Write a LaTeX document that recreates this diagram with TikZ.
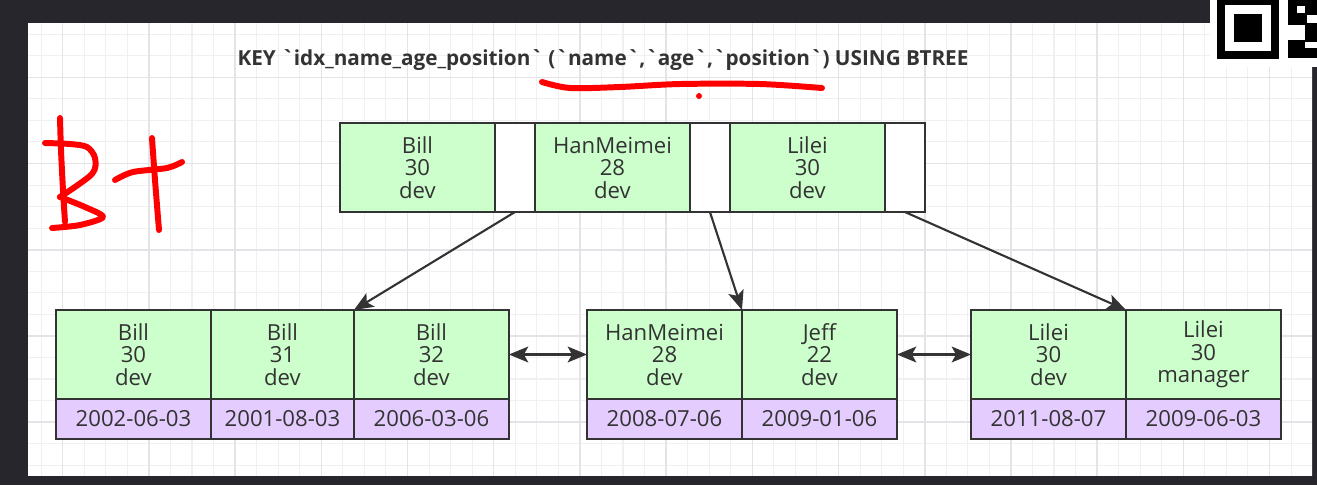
\documentclass[tikz,border=0pt]{standalone}
\usepackage{fontspec}
\setmainfont{Open Sans}[Ligatures=TeXOff]
\definecolor{keygreen}{HTML}{CCFFCC}
\definecolor{rowpurple}{HTML}{E5CCFF}
\definecolor{edgegray}{HTML}{333333}
\definecolor{slate}{HTML}{26262C}
\definecolor{gridminor}{HTML}{F0F0F2}
\definecolor{gridmajor}{HTML}{E4E4E8}
\definecolor{inkred}{HTML}{FF0000}
\usetikzlibrary{arrows.meta,positioning}

\tikzset{
  cell/.style={draw=edgegray, line width=1.2pt, outer sep=0pt, inner sep=0pt,
    align=center, text=edgegray, font=\fontsize{12.6}{12.8}\selectfont},
  keycell/.style={cell, fill=keygreen, minimum width=#1, minimum height=1.78cm},
  keycell/.default=3.1cm,
  gapcell/.style={cell, fill=white, minimum width=0.8cm, minimum height=1.78cm},
  rowcell/.style={cell, fill=rowpurple, minimum width=#1, minimum height=0.8cm},
  rowcell/.default=3.1cm,
  ptr/.style={draw=edgegray, line width=1.2pt, -{Stealth[length=11pt,width=9pt,inset=2.5pt]}},
  link/.style={ptr, {Stealth[length=11pt,width=9pt,inset=2.5pt]}-{Stealth[length=11pt,width=9pt,inset=2.5pt]}},
  pen/.style={inkred, line width=3.4pt, line cap=round, line join=round},
}

\begin{document}
\begin{tikzpicture}[x=0.02cm, y=-0.02cm]
  % screen and paper
  \fill[slate] (0,0) rectangle (1317,485);
  \fill[white] (28,23) rectangle (1312,476);
  \begin{scope}
    \clip (28,23) rectangle (1312,476);
    \foreach \i in {0,...,60}
      \draw[gridminor, line width=0.6pt] ({19.6+21.55*\i},23) -- ++(0,453);
    \foreach \i in {0,...,22}
      \draw[gridminor, line width=0.6pt] (28,{12.65+21.55*\i}) -- ++(1284,0);
    \foreach \i in {0,...,14}
      \draw[gridmajor, line width=0.9pt] ({62.7+86.2*\i},23) -- ++(0,453);
    \foreach \i in {0,...,5}
      \draw[gridmajor, line width=0.9pt] (28,{-8.9+86.2*\i}) -- ++(1284,0);
  \end{scope}

  % qr corner
  \fill[white] (1210,0) rectangle (1317,67);
  \fill[black] (1217,0) rectangle (1279,59);
  \fill[white] (1225,5) rectangle (1271,51);
  \fill[black] (1234,14) rectangle (1262,42);
  \fill[black] (1288,0) rectangle (1317,58);
  \fill[white] (1297,6) rectangle (1305,13);
  \fill[white] (1307,15) rectangle (1317,23);
  \fill[white] (1288,25) rectangle (1305,40);
  \fill[white] (1305,42) rectangle (1317,48);

  % title
  \node[text=edgegray, font=\bfseries\fontsize{11.8}{13}\selectfont] (title) at (603,60)
    {KEY `idx\_name\_age\_position` (`name`,`age`,`position`) USING BTREE};

  % root
  \node[keycell, anchor=north west] (k1) at (340,123) {Bill\\30\\dev};
  \node[gapcell, right=0pt of k1] (g1) {};
  \node[keycell, right=0pt of g1] (k2) {HanMeimei\\28\\dev};
  \node[gapcell, right=0pt of k2] (g2) {};
  \node[keycell, right=0pt of g2] (k3) {Lilei\\30\\dev};
  \node[gapcell, right=0pt of k3] (g3) {};

  % leaf 1
  \node[keycell, anchor=north west] (l1a) at (56,310) {Bill\\30\\dev};
  \node[keycell=2.86cm, right=0pt of l1a] (l1b) {Bill\\31\\dev};
  \node[keycell, right=0pt of l1b] (l1c) {Bill\\32\\dev};
  \node[rowcell, below=0pt of l1a] (d1a) {2002-06-03};
  \node[rowcell=2.86cm, below=0pt of l1b] (d1b) {2001-08-03};
  \node[rowcell, below=0pt of l1c] (d1c) {2006-03-06};

  % leaf 2
  \node[keycell, anchor=north west] (l2a) at (587,310) {HanMeimei\\28\\dev};
  \node[keycell, right=0pt of l2a] (l2b) {Jeff\\22\\dev};
  \node[rowcell, below=0pt of l2a] (d2a) {2008-07-06};
  \node[rowcell, below=0pt of l2b] (d2b) {2009-01-06};

  % leaf 3
  \node[keycell, anchor=north west] (l3a) at (971,310) {Lilei\\30\\dev};
  \node[keycell, right=0pt of l3a] (l3b) {Lilei\\30\\manager};
  \node[rowcell, below=0pt of l3a] (d3a) {2011-08-07};
  \node[rowcell, below=0pt of l3b] (d3b) {2009-06-03};

  % pointers
  \draw[ptr] (g1.south) -- (l1b.north east);
  \draw[ptr] (g2.south) -- (l2a.north east);
  \draw[ptr] (g3.south) -- (l3a.north east);
  \draw[link] (l1c.east) -- (l2a.west);
  \draw[link] (l2b.east) -- (l3a.west);

  % red ink
  \draw[pen] plot[smooth] coordinates {(60,118) (61,150) (63,190) (65,222)};
  \draw[pen] plot[smooth] coordinates {(45,143) (70,144) (87,147) (95,158) (92,174) (60,197)};
  \draw[pen] plot[smooth] coordinates {(60,197) (85,207) (103,217) (80,225) (52,228)};
  \draw[pen] plot[smooth] coordinates {(152,138) (155,180) (159,230)};
  \draw[pen] plot[smooth] coordinates {(115,180) (133,172) (167,168) (182,162)};
  \draw[pen] plot[smooth] coordinates {(542,82) (570,88) (620,87) (680,84) (760,84) (822,88)};
  \fill[inkred] (699,96) circle (1.7pt);
\end{tikzpicture}
\end{document}
